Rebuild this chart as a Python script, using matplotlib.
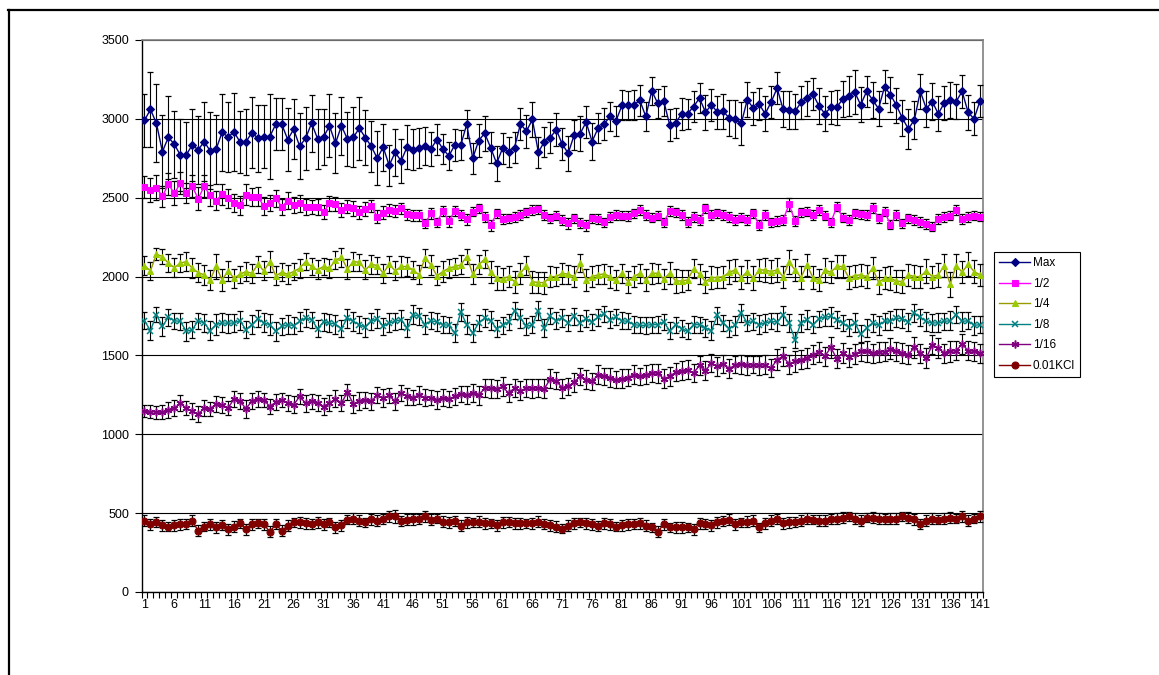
import numpy as np
import matplotlib
matplotlib.use("Agg")
import matplotlib.pyplot as plt
from matplotlib.lines import Line2D

plt.rcParams['font.family'] = ['Liberation Sans', 'DejaVu Sans']

# ---------------- data ----------------
series_names = ["Max", "1/2", "1/4", "1/8", "1/16", "0.01KCl"]
x_tick_labels = [str(v) for v in range(1, 142, 5)]

max_vals = [2990, 3060, 2972, 2792, 2883, 2839, 2771, 2771, 2835, 2803,
            2856, 2797, 2807, 2915, 2885, 2917, 2854, 2854, 2913, 2877,
            2888, 2888, 2966, 2966, 2869, 2934, 2826, 2877, 2972, 2875,
            2885, 2955, 2845, 2955, 2873, 2883, 2941, 2881, 2826, 2750,
            2820, 2705, 2788, 2733, 2822, 2805,
            2818, 2828, 2809, 2869, 2809, 2765, 2835, 2835, 2966, 2750,
            2862, 2909, 2818, 2718, 2813, 2788, 2818, 2968, 2922, 2996,
            2788, 2856, 2881, 2932, 2839, 2782, 2898, 2907, 2979, 2856,
            2941, 2966, 3015, 2987, 3085, 3085, 3089, 3117, 3015, 3178,
            3098, 3114, 2962, 2975, 3032, 3032, 3078,
            3131, 3042,
            3089, 3042, 3047, 3004, 3000, 2972, 3121, 3068, 3093, 3032,
            3106, 3195, 3061, 3057, 3047, 3104, 3131, 3157, 3083, 3032,
            3074, 3074, 3125, 3146, 3170, 3089, 3174, 3121, 3064, 3204,
            3153, 3085, 3004, 2936, 2994, 3174, 3064, 3110, 3032, 3100,
            3121, 3110, 3174, 3042, 3000, 3114]
max_err = [170, 240, 248, 230, 263, 212, 229, 208, 229, 218,
           250, 244, 220, 244, 220, 246, 197, 210, 223, 212,
           200, 270, 165, 165, 200, 190, 210, 200, 180, 190,
           180, 200, 190, 185, 170, 190, 200, 175, 160, 170,
           150, 130, 150, 140, 140, 130, 127, 120, 110, 100,
           95, 91, 100, 95, 89, 100, 105, 112, 100, 110,
           100, 95, 100, 100, 105, 110, 100, 95, 100, 105,
           100, 110, 95, 108, 100, 120, 95, 100, 90, 95,
           95, 90, 95, 100, 95, 87, 90, 95, 100, 95,
           100, 95, 100, 95, 110, 100, 105, 110, 115, 120,
           138, 110, 105, 100, 110, 100, 100, 115, 120, 110,
           105, 110, 100, 115, 110, 105, 110, 115, 125, 138,
           110, 100, 115, 110, 105, 110, 110, 115, 129, 120,
           110, 115, 120, 110, 110, 115, 110, 105, 110, 105, 100]

half_vals = [2570, 2549, 2564, 2508, 2585, 2528, 2591, 2530, 2572, 2494,
             2572, 2515, 2481, 2521, 2496, 2466, 2453, 2519, 2504, 2506,
             2447, 2468, 2496, 2443, 2481, 2453, 2464, 2439, 2443, 2439,
             2407, 2464, 2460, 2422, 2443, 2432, 2407, 2426, 2447, 2379,
             2405, 2422, 2415, 2432, 2394, 2390,
             2390, 2337, 2400, 2343, 2417, 2352, 2417, 2390, 2364, 2411,
             2432, 2379, 2326, 2400, 2364, 2369, 2379, 2390, 2407, 2422,
             2426, 2390, 2369, 2386, 2358, 2337, 2369, 2341, 2326, 2369,
             2364, 2343, 2379, 2390, 2386, 2383, 2400, 2422, 2390, 2373,
             2386, 2343, 2415, 2407, 2390, 2347, 2379, 2358,
             2432, 2390, 2400, 2390, 2379, 2358, 2373, 2358, 2400, 2326,
             2390, 2343, 2352, 2358, 2458, 2352, 2407, 2411, 2390, 2422,
             2386, 2343, 2443, 2373, 2358, 2400, 2394, 2390, 2436, 2369,
             2411, 2330, 2390, 2337, 2369, 2358, 2347, 2333, 2316, 2364,
             2379, 2386, 2422, 2364, 2379, 2386, 2380]
half_err = [70, 75, 80, 65, 70, 75, 70, 65, 70, 75,
            70, 65, 60, 65, 60, 55, 60, 65, 55, 60,
            55, 50, 55, 50, 55, 50, 55, 50, 45, 50,
            45, 50, 45, 45, 40, 45, 40, 45, 40, 40,
            40, 35, 40, 35, 35, 35, 35, 30, 35, 30,
            30, 35, 30, 30, 35, 30, 30, 30, 35, 30,
            30, 30, 30, 30, 30, 30, 30, 30, 30, 30,
            30, 35, 30, 30, 35, 30, 30, 30, 30, 30,
            30, 30, 30, 30, 30, 30, 30, 30, 30, 30,
            30, 30, 30, 30, 30, 30, 30, 30, 30, 30,
            30, 30, 30, 30, 30, 30, 30, 30, 40, 30,
            30, 30, 30, 30, 30, 30, 30, 30, 30, 30,
            30, 30, 30, 30, 30, 30, 30, 30, 30, 30,
            30, 30, 30, 30, 30, 30, 30, 30, 30, 30, 30]

quarter_vals = [2070, 2036, 2142, 2127, 2085, 2057, 2085, 2095, 2053, 2025,
                2011, 1979, 2064, 1979, 2036, 1989, 2015, 2032, 2021, 2078,
                2036, 2095, 2004, 2028, 2015, 2032, 2053, 2095, 2064, 2042,
                2064, 2053, 2104, 2121, 2049, 2095, 2091, 2042, 2078, 2070,
                2021, 2078, 2036, 2064, 2064, 2042,
                2011, 2117, 2074, 2004, 2032, 2053, 2064, 2074, 2127, 2015,
                2074, 2112, 2028, 1989, 1985, 2000, 1968, 2021, 2070, 1968,
                1962, 1962, 2000, 2000, 2021, 2015, 2000, 2085, 1979, 2000,
                2011, 2017, 2000, 1979, 2021, 1968, 2000, 2021, 1979, 2021,
                2021, 1985, 2021, 1972, 1972, 1979, 2049, 2015,
                1968, 1994, 1994, 2000, 2028, 2042, 1994, 2032, 1989, 2042,
                2042, 2032, 2042, 2000, 2091, 2042, 1994, 2074, 1994, 1979,
                2042, 2028, 2064, 2064, 1994, 2006, 2011, 2000, 2053, 1964,
                1989, 1989, 1972, 1968, 2011, 2000, 2000, 2036, 2000, 2011,
                2070, 1951, 2070, 2028, 2078, 2032, 2011]
quarter_err = [60, 55, 40, 50, 55, 60, 55, 60, 65, 60,
               65, 64, 78, 70, 65, 60, 55, 60, 60, 55,
               60, 65, 60, 55, 60, 55, 60, 55, 55, 60,
               55, 60, 55, 60, 65, 60, 55, 60, 60, 55,
               60, 55, 60, 65, 60, 55, 60, 55, 65, 60,
               65, 60, 55, 60, 50, 65, 60, 55, 70, 75,
               70, 65, 70, 65, 60, 70, 65, 70, 65, 60,
               65, 60, 65, 55, 70, 65, 60, 65, 70, 65,
               60, 70, 65, 60, 70, 65, 60, 65, 70, 75,
               70, 65, 60, 65, 70, 70, 65, 70, 75, 70,
               75, 70, 75, 70, 75, 70, 75, 70, 75, 70,
               75, 70, 75, 70, 75, 70, 75, 70, 75, 70,
               70, 75, 70, 75, 70, 75, 70, 75, 70, 75,
               70, 75, 70, 75, 70, 80, 75, 70, 75, 70, 70]

eighth_vals = [1720, 1657, 1759, 1684, 1742, 1720, 1716, 1653, 1663, 1720,
               1706, 1657, 1695, 1706, 1704, 1706, 1720, 1663, 1695, 1733,
               1706, 1695, 1653, 1684, 1695, 1689, 1716, 1737, 1727, 1670,
               1712, 1706, 1699, 1670, 1737, 1716, 1695, 1678, 1716, 1733,
               1684, 1706, 1716, 1727, 1674, 1759, 1748,
               1695, 1720, 1712, 1695, 1691, 1642, 1776, 1695, 1642, 1706,
               1737, 1720, 1670, 1691, 1712, 1784, 1737, 1684, 1695, 1784,
               1674, 1748, 1720, 1737, 1706, 1748, 1706, 1733, 1712, 1742,
               1763, 1727, 1742, 1720, 1716, 1695, 1691, 1691, 1695, 1695,
               1712, 1657, 1695, 1670, 1653, 1695,
               1695, 1674, 1657, 1754, 1706, 1670, 1691, 1769, 1706, 1716,
               1695, 1706, 1716, 1712, 1754, 1706, 1600, 1706, 1727, 1695,
               1733, 1742, 1748, 1727, 1706, 1678, 1706, 1636, 1674, 1706,
               1691, 1716, 1720, 1737, 1733, 1712, 1769, 1742, 1716, 1706,
               1706, 1716, 1720, 1759, 1716, 1720, 1691, 1695]
eighth_err = [55, 60, 50, 60, 55, 50, 55, 60, 55, 50,
              55, 60, 65, 60, 60, 55, 60, 55, 60, 55,
              60, 65, 60, 55, 60, 55, 60, 55, 50, 55,
              60, 55, 60, 55, 60, 60, 55, 60, 55, 60,
              55, 60, 55, 60, 55, 60, 55, 60, 55, 60,
              55, 50, 60, 55, 60, 55, 50, 55, 60, 55,
              55, 50, 55, 60, 55, 55, 60, 55, 50, 55,
              55, 50, 55, 50, 55, 50, 55, 50, 55, 50,
              55, 50, 55, 50, 55, 50, 55, 50, 55, 50,
              55, 50, 55, 50, 55, 60, 55, 50, 55, 60,
              55, 50, 55, 60, 55, 50, 55, 60, 55, 50,
              55, 60, 55, 50, 55, 60, 55, 50, 55, 60,
              55, 60, 55, 60, 55, 60, 55, 60, 55, 60,
              55, 60, 55, 60, 55, 60, 55, 60, 55, 60, 55]

sixteenth_vals = [1148, 1144, 1140, 1140, 1155, 1165, 1197, 1165, 1148, 1127,
                  1165, 1161, 1191, 1187, 1165, 1225, 1212, 1161, 1212, 1225,
                  1218, 1176, 1204, 1218, 1197, 1187, 1240, 1197, 1208, 1197,
                  1176, 1197, 1225, 1197, 1267, 1191, 1212, 1218, 1208, 1250,
                  1229, 1246, 1208, 1261, 1240, 1233,
                  1250, 1233, 1233, 1218, 1233, 1225, 1240, 1254, 1250, 1261,
                  1246, 1293, 1293, 1288, 1303, 1261, 1293, 1276, 1293, 1293,
                  1293, 1288, 1352, 1339, 1293, 1303, 1331, 1367, 1346, 1335,
                  1377, 1367, 1360, 1346, 1352, 1360, 1377, 1367, 1377, 1388,
                  1388, 1352, 1367, 1394, 1403, 1409, 1388,
                  1437, 1403, 1452, 1430, 1445, 1416, 1441, 1445, 1437, 1441,
                  1437, 1441, 1420, 1473, 1494, 1445, 1462, 1473, 1483, 1505,
                  1522, 1494, 1551, 1479, 1515, 1488, 1509, 1526, 1526, 1515,
                  1522, 1522, 1543, 1526, 1515, 1505, 1551, 1515, 1483, 1568,
                  1547, 1515, 1526, 1530, 1572, 1530, 1526, 1515]
sixteenth_err = [40, 40, 40, 45, 50, 50, 50, 45, 50, 50,
                 50, 45, 50, 50, 45, 50, 50, 55, 50, 50,
                 45, 50, 50, 45, 50, 55, 50, 55, 50, 50,
                 55, 50, 55, 50, 50, 55, 55, 50, 55, 50,
                 55, 50, 55, 50, 55, 50, 55, 55, 50, 55,
                 55, 50, 55, 50, 55, 55, 60, 55, 60, 55,
                 60, 55, 55, 60, 55, 60, 55, 60, 60, 55,
                 60, 55, 60, 55, 60, 55, 60, 55, 60, 55,
                 60, 55, 60, 55, 60, 55, 60, 60, 60, 55,
                 60, 60, 55, 60, 60, 55, 60, 55, 60, 55,
                 60, 60, 55, 60, 60, 55, 65, 60, 60, 65,
                 60, 65, 60, 65, 60, 65, 60, 65, 60, 65,
                 60, 65, 60, 65, 60, 65, 60, 65, 60, 65,
                 60, 65, 60, 65, 60, 65, 60, 65, 60, 60, 60]

kcl_vals = [451, 430, 445, 424, 415, 424, 430, 430, 451, 388,
            415, 430, 409, 424, 398, 415, 436, 398, 430, 436,
            430, 381, 430, 388, 419, 441, 441, 436, 430, 441,
            430, 441, 409, 424, 458, 466, 451, 441, 462, 451,
            462, 479, 479, 451, 458, 462, 462, 479, 458, 466,
            445, 441, 451, 419, 441, 441, 445, 436, 436, 424,
            441, 445, 436, 436, 436, 436, 445, 430, 424, 415,
            402, 419, 436, 441, 436, 430, 419, 436, 430, 415,
            424, 430, 430, 436, 419, 409, 381, 430, 409, 409,
            409, 409, 398, 436, 430, 424, 441, 451, 458, 430,
            441, 445, 451, 409, 436, 451, 462, 436, 441, 445,
            451, 466, 458, 451, 451, 462, 466, 472, 479, 466,
            451, 472, 472, 466, 462, 466, 466, 479, 472, 462,
            430, 451, 466, 458, 466, 472, 466, 479, 451, 466, 479]
kcl_err = [35, 35, 30, 35, 30, 35, 35, 30, 35, 35,
           30, 35, 35, 30, 35, 35, 30, 35, 35, 30,
           35, 35, 30, 35, 35, 30, 35, 35, 30, 35,
           35, 30, 35, 35, 30, 35, 35, 30, 35, 35,
           30, 35, 40, 30, 35, 35, 30, 35, 35, 30,
           35, 35, 30, 35, 35, 30, 35, 35, 30, 35,
           35, 30, 35, 35, 30, 35, 35, 30, 35, 35,
           30, 35, 35, 30, 35, 35, 30, 35, 35, 30,
           35, 35, 30, 35, 35, 30, 35, 35, 30, 35,
           35, 30, 35, 35, 30, 35, 35, 30, 35, 35,
           30, 35, 35, 30, 35, 35, 30, 35, 35, 30,
           35, 35, 30, 35, 35, 30, 35, 35, 30, 35,
           35, 30, 35, 35, 30, 35, 35, 30, 35, 35,
           30, 35, 35, 30, 35, 35, 30, 35, 35, 30, 35]

all_vals = [max_vals, half_vals, quarter_vals, eighth_vals, sixteenth_vals, kcl_vals]
all_errs = [max_err, half_err, quarter_err, eighth_err, sixteenth_err, kcl_err]

# ---------------- styles ----------------
styles = [
    dict(color='#000080', marker='D', ms=3.6, mfc='#000080', mec='#000080', mew=0.8),
    dict(color='#FF00FF', marker='s', ms=5.0, mfc='#FF00FF', mec='#FF00FF', mew=0.8),
    dict(color='#999900', marker='^', ms=5.0, mfc='#99CC00', mec='#99CC00', mew=0.8),
    dict(color='#008080', marker='x', ms=5.0, mfc='#008080', mec='#008080', mew=1.1),
    dict(color='#800080', marker=(6, 2, 0), ms=5.6, mfc='#800080', mec='#800080', mew=1.1),
    dict(color='#800000', marker='o', ms=5.0, mfc='#800000', mec='#800000', mew=0.8),
]

W, H = 1159, 675
fig = plt.figure(figsize=(W / 100, H / 100), dpi=100)
fig.patch.set_facecolor('white')

left, right, top, bottom = 141.5, 983, 40, 592
ax = fig.add_axes([left / W, 1 - bottom / H, (right - left) / W, (bottom - top) / H])

handles = []
for i, (name, vals, errs, st) in enumerate(zip(series_names, all_vals, all_errs, styles)):
    x = np.arange(1, len(vals) + 1)
    ax.errorbar(x, vals, yerr=errs, fmt='none', ecolor='black', elinewidth=0.8,
                capsize=2.2, capthick=0.9, zorder=3 + 2 * i)
    ln, = ax.plot(x, vals, color=st['color'], lw=1.0, marker=st['marker'],
                  markersize=st['ms'], markerfacecolor=st['mfc'],
                  markeredgecolor=st['mec'], markeredgewidth=st['mew'],
                  zorder=4 + 2 * i, label=name)
    handles.append(ln)

ax.set_xlim(0.5, 141.5)
ax.set_ylim(0, 3500)
ax.set_yticks(np.arange(0, 3501, 500))
ax.yaxis.grid(True, color='black', lw=0.8)
ax.set_axisbelow(True)

ax.set_xticks(np.arange(1, 142, 5))
ax.set_xticklabels(x_tick_labels)
ax.set_xticks(np.arange(0.5, 141.6, 1), minor=True)
ax.tick_params(axis='x', which='major', length=0, pad=5, labelsize=9)
ax.tick_params(axis='x', which='minor', length=4, width=0.8, direction='out')
ax.tick_params(axis='y', which='major', length=5, width=0.8, direction='out', pad=4, labelsize=9)

for s in ['top', 'right']:
    ax.spines[s].set_color('#808080')
    ax.spines[s].set_linewidth(1.2)
for s in ['left', 'bottom']:
    ax.spines[s].set_color('black')
    ax.spines[s].set_linewidth(1.0)

leg = fig.legend(handles, series_names, loc='upper left',
                 bbox_to_anchor=(994 / W, 1 - 252 / H), fontsize=8.5,
                 frameon=True, fancybox=False, framealpha=1, edgecolor='black',
                 handlelength=2.6, handletextpad=0.25, labelspacing=0.72,
                 borderpad=0.45, borderaxespad=0)
leg.get_frame().set_linewidth(0.8)

# outer frame of the embedded chart (document border)
fig.add_artist(Line2D([9 / W, 9 / W], [0, 1 - 10 / H], transform=fig.transFigure,
                      color='black', lw=1.6))
fig.add_artist(Line2D([8.2 / W, 1], [1 - 10 / H, 1 - 10 / H], transform=fig.transFigure,
                      color='black', lw=1.6))

fig.savefig('out.png', dpi=100, facecolor='white')
